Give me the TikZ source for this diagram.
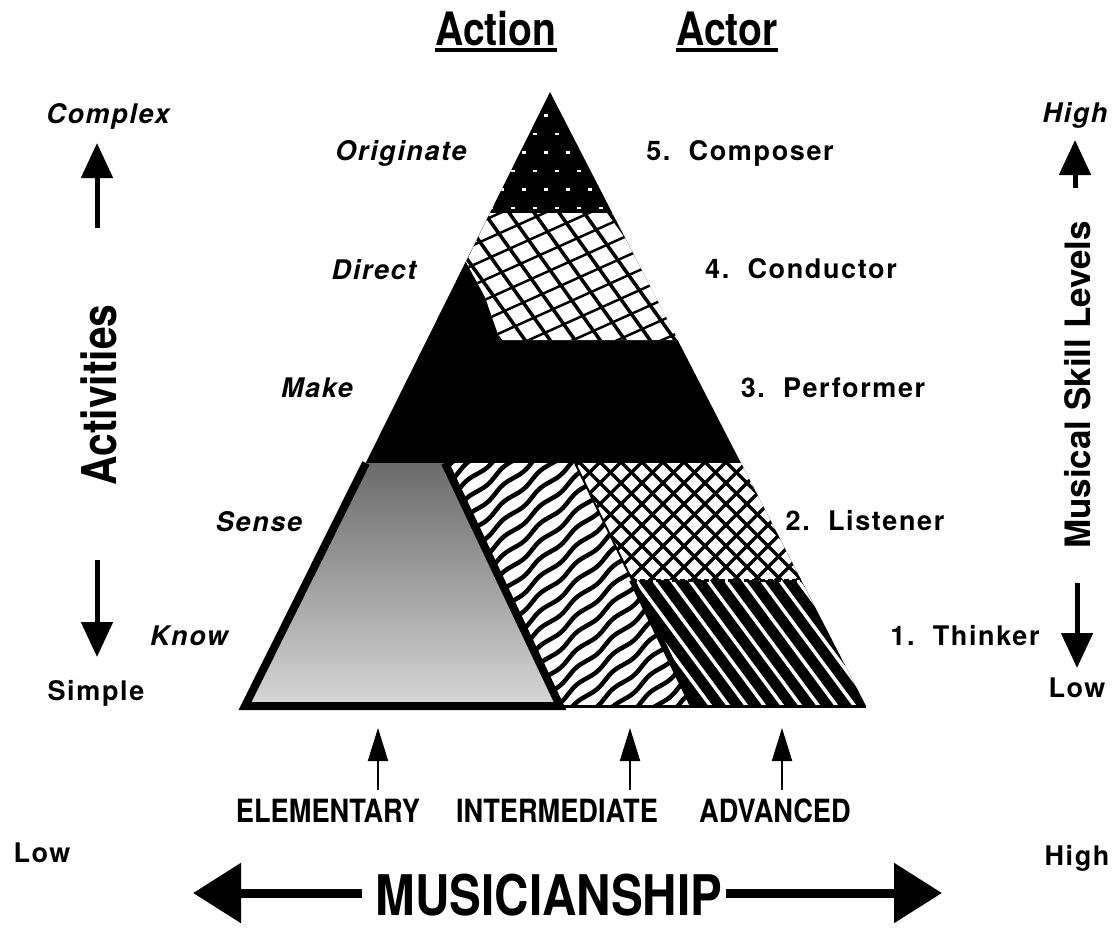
\documentclass[tikz,border=0pt]{standalone}
\usepackage{fontspec}
\setmainfont{TeX Gyre Heros}
\newfontfamily\narrowfont{TeX Gyre Heros}[FakeStretch=0.85]
\newfontfamily\spacedfont{TeX Gyre Heros}[LetterSpace=6]
\usetikzlibrary{arrows.meta,decorations.pathmorphing}

\begin{document}
\begin{tikzpicture}[x=1pt,y=-1pt,
    act/.style={font=\spacedfont\bfseries\itshape\fontsize{27}{30}\selectfont,anchor=base,inner sep=0pt},
    role/.style={font=\spacedfont\bfseries\fontsize{27}{30}\selectfont,anchor=base,inner sep=0pt},
    head/.style={font=\narrowfont\bfseries\fontsize{46}{50}\selectfont,anchor=base,inner sep=0pt},
    lvl/.style={font=\narrowfont\bfseries\fontsize{32}{36}\selectfont,anchor=base,inner sep=0pt},
    uline/.style={line width=3.5pt},
    sidearrow/.style={line width=5pt,-{Triangle[length=35pt,width=31pt]}},
    thinarrow/.style={line width=2pt,-{Triangle[length=33pt,width=20pt]}},
    widearrow/.style={line width=9pt,-{Triangle[length=48pt,width=58pt]}},
    wav/.style={line width=4.5pt,decorate,decoration={snake,amplitude=1.6pt,segment length=48pt}}]
      \useasboundingbox (0,0) rectangle (1113,948);

      \coordinate (apex) at (550,92);
      \coordinate (bl) at (245,706);
      \coordinate (br) at (866,706);
      \coordinate (c1l) at (490,213);
      \coordinate (c1r) at (612,213);
      \coordinate (notch) at (466,262);
      \coordinate (nk1) at (485,297);
      \coordinate (nk2) at (500,340);
      \coordinate (c2r) at (678,340);
      \coordinate (c3l) at (366,463);
      \coordinate (c3r) at (741,463);
      \coordinate (c4r) at (801,580);
      \coordinate (e1) at (445,463);
      \coordinate (e2) at (560,706);
      \coordinate (m1) at (575,463);
      \coordinate (m2) at (632,580);
      \coordinate (m3) at (693,706);

      \fill[black] (apex) -- (bl) -- (br) -- cycle;

      % composer
      \begin{scope}
        \clip (apex) -- (c1r) -- (c1l) -- cycle;
        \foreach \r in {0,...,5}
          \foreach \c in {0,...,8}
            \fill[white] ({478+22*\c+11*mod(\r,2)},{114+18.5*\r}) rectangle ++(4,2.5);
      \end{scope}

      % conductor
      \begin{scope}
        \clip (c1l) -- (c1r) -- (c2r) -- (nk2) -- (nk1) -- (notch) -- cycle;
        \fill[white] (400,200) rectangle (700,360);
        \foreach \k in {-3,...,12}
          \draw[line width=3.5pt] ({400+25*\k},200) -- ++(110,154);
        \foreach \k in {0,...,12}
          \draw[line width=2.5pt] (440,{220+20*\k}) -- ++(260,-117);
      \end{scope}

      % elementary
      \shade[top color=black!58,bottom color=black!16] (c3l) -- (e1) -- (e2) -- (bl) -- cycle;

      % intermediate
      \begin{scope}
        \clip (e1) -- (m1) -- (m3) -- (e2) -- cycle;
        \fill[white] (440,460) rectangle (700,710);
        \foreach \k in {0,...,26}
          \draw[wav] (420,{470+17.5*\k}) -- ++(300,-255);
      \end{scope}

      % listener
      \begin{scope}
        \clip (m1) -- (c3r) -- (c4r) -- (m2) -- cycle;
        \fill[white] (570,460) rectangle (810,585);
        \foreach \k in {0,...,19}
          \draw[line width=3.5pt] ({420+21*\k},450) -- ++(150,150);
        \foreach \k in {0,...,19}
          \draw[line width=3.5pt] ({570+21*\k},450) -- ++(-150,150);
      \end{scope}

      % thinker
      \begin{scope}
        \clip (m2) -- (c4r) -- (br) -- (m3) -- cycle;
        \foreach \k in {0,...,20}
          \draw[white,line width=3.5pt] ({520+18*\k},570) -- ++(111,150);
      \end{scope}

      \draw[line width=3pt,dash pattern=on 5pt off 3pt] (m2) -- (c4r);
      \draw[line width=2pt] (m1) -- (m2);
      \draw[line width=6pt] (m2) -- (m3);
      \draw[line width=3pt] (e2) -- (br);
      \draw[line width=8pt,line join=miter] (c3l) -- (bl) -- (e2) -- (e1);

      \node[head] (action) at (496,45) {Action};
      \node[head] (actor) at (727,45) {Actor};
      \draw[uline] ([yshift=-5pt]action.base west) -- ([yshift=-5pt]action.base east);
      \draw[uline] ([yshift=-5pt]actor.base west) -- ([yshift=-5pt]actor.base east);

      \node[act] (originate) at (401,160) {Originate};
      \node[act] (direct) at (374,279) {Direct};
      \node[act] (make) at (317,397) {Make};
      \node[act] (sense) at (259,531) {Sense};
      \node[act] (know) at (189,645) {Know};

      \node[role] (composer) at (740,160) {5.\ \ Composer};
      \node[role] (conductor) at (801,278) {4.\ \ Conductor};
      \node[role] (performer) at (833,397) {3.\ \ Performer};
      \node[role] (listener) at (865,530) {2.\ \ Listener};
      \node[role] (thinker) at (965,645) {1.\ \ Thinker};

      \node[act] (complex) at (108,123) {Complex};
      \node[role] (simple) at (96,700) {Simple};
      \node[act] (skillhigh) at (1075,122) {High};
      \node[role] (skilllow) at (1077,697) {Low};
      \node[font=\narrowfont\bfseries\fontsize{48}{52}\selectfont,anchor=base,inner sep=0pt,rotate=90] (activities) at (116,395) {Activities};
      \node[font=\bfseries\fontsize{35}{38}\selectfont,anchor=base,inner sep=0pt,rotate=90] (skill) at (1090,385) {Musical Skill Levels};

      \coordinate (lu1) at (97,228);
      \coordinate (lu2) at (97,143);
      \coordinate (ld1) at (97,560);
      \coordinate (ld2) at (97,657);
      \coordinate (ru1) at (1075,188);
      \coordinate (ru2) at (1075,140);
      \coordinate (rd1) at (1077,583);
      \coordinate (rd2) at (1077,668);
      \draw[sidearrow] (lu1) -- (lu2);
      \draw[sidearrow] (ld1) -- (ld2);
      \draw[sidearrow] (ru1) -- (ru2);
      \draw[sidearrow] (rd1) -- (rd2);

      \node[lvl] (elem) at (328,822) {ELEMENTARY};
      \node[lvl] (inter) at (557,822) {INTERMEDIATE};
      \node[lvl] (adv) at (775,822) {ADVANCED};
      \coordinate (ea) at (378,790);
      \coordinate (ia) at (630,790);
      \coordinate (aa) at (782,790);
      \draw[thinarrow] (ea) -- (378,728);
      \draw[thinarrow] (ia) -- (630,728);
      \draw[thinarrow] (aa) -- (782,728);

      \node[role] (mlow) at (42,862) {Low};
      \node[role] (mhigh) at (1077,865) {High};
      \node[font=\narrowfont\bfseries\fontsize{56}{60}\selectfont,anchor=base,inner sep=0pt] (music) at (549,915) {MUSICIANSHIP};
      \coordinate (mla) at (193,893);
      \coordinate (mra) at (942,893);
      \draw[widearrow] ([xshift=-14pt]music.west |- mla) -- (mla);
      \draw[widearrow] ([xshift=4pt]music.east |- mra) -- (mra);
    \end{tikzpicture}
\end{document}
